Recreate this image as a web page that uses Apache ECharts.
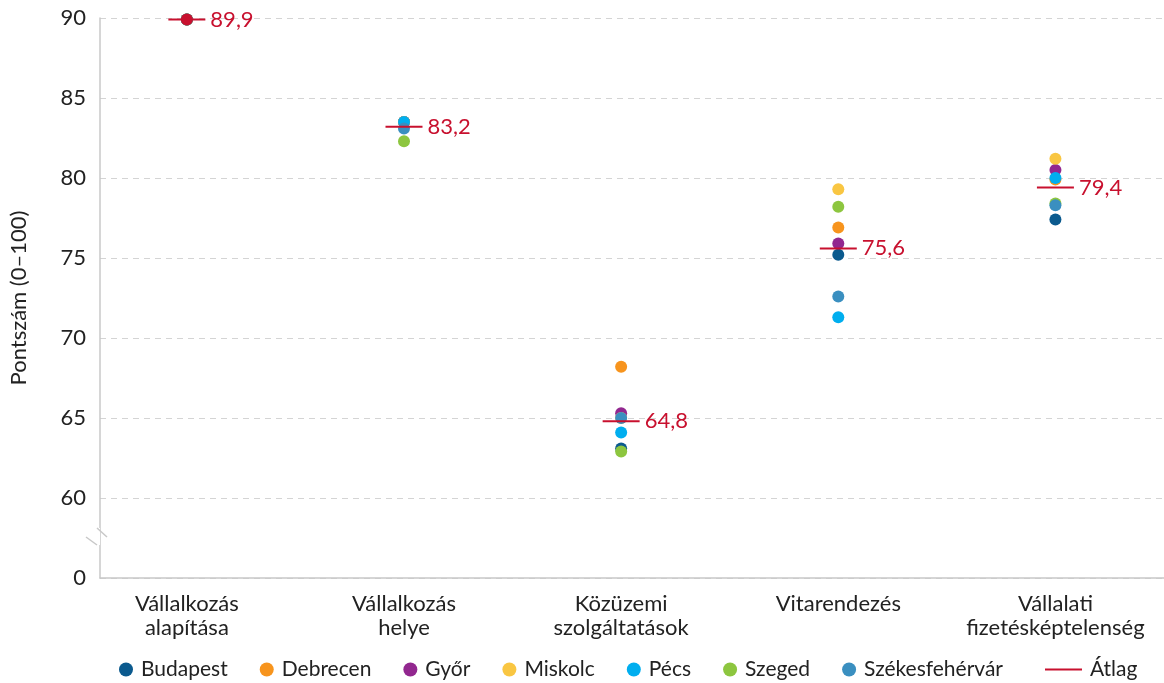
<!DOCTYPE html>
<html>
<head>
<meta charset="utf-8">
<script src="https://cdn.jsdelivr.net/npm/echarts@6/dist/echarts.min.js"></script>
<style>
  html, body { margin: 0; padding: 0; background: #fff; }
  #chart { width: 1164px; height: 683px; }
</style>
</head>
<body>
<div id="chart"></div>
<script>
(function(){
    'use strict';

    var categories = ['Vállalkozás\nalapítása', 'Vállalkozás\nhelye', 'Közüzemi\nszolgáltatások', 'Vitarendezés', 'Vállalati\nfizetésképtelenség'];
    var cities = ['Budapest', 'Debrecen', 'Győr', 'Miskolc', 'Pécs', 'Szeged', 'Székesfehérvár'];
    var cityColors = ['#0b5a8e', '#f7941d', '#92278f', '#f9c642', '#00aeef', '#8dc63f', '#3a8fc0'];

    // pontszámok városonként, kategóriák sorrendjében
    var budapest       = [89.9, 83.5, 63.1, 75.2, 77.4];
    var debrecen       = [89.9, 83.5, 68.2, 76.9, 79.9];
    var gyor           = [89.9, 83.5, 65.3, 75.9, 80.5];
    var miskolc        = [89.9, 83.5, 65.0, 79.3, 81.2];
    var pecs           = [89.9, 83.5, 64.1, 71.3, 80.0];
    var szeged         = [89.9, 82.3, 62.9, 78.2, 78.4];
    var szekesfehervar = [89.9, 83.1, 65.0, 72.6, 78.3];
    var atlag          = [89.9, 83.2, 64.8, 75.6, 79.4];

    var yTicks = [60, 65, 70, 75, 80, 85, 90];
    var AXIS_BOTTOM = 55; // ide kerül a "0" címke (tengelytörés)

    var cityValues = [budapest, debrecen, gyor, miskolc, pecs, szeged, szekesfehervar];
    var red = '#c8102e';
    var font = 'Lato';

    function toPairs(arr){
        var out = [];
        for (var i = 0; i < arr.length; i++) out.push([i, arr[i]]);
        return out;
    }

    var series = [];
    for (var c = 0; c < cities.length; c++){
        series.push({
            name: cities[c],
            type: 'scatter',
            symbol: 'circle',
            symbolSize: 12,
            itemStyle: { color: cityColors[c], opacity: 1 },
            data: toPairs(cityValues[c])
        });
    }
    // első kategóriánál minden város ugyanaz -> piros pont
    series.push({
        name: 'Átlag pont',
        type: 'scatter',
        symbol: 'circle',
        symbolSize: 12,
        z: 5,
        itemStyle: { color: red, opacity: 1 },
        data: [[0, atlag[0]]]
    });
    series.push({
        name: 'Átlag',
        type: 'scatter',
        symbol: 'rect',
        symbolSize: [37, 2],
        z: 6,
        itemStyle: { color: red, opacity: 1 },
        label: {
            show: true,
            position: 'right',
            distance: 5,
            color: red,
            fontFamily: font,
            fontSize: 22,
            formatter: function(p){ return p.value[1].toFixed(1).replace('.', ','); }
        },
        data: toPairs(atlag)
    });

    var option = {
        animation: false,
        grid: { left: 97, right: 0, top: 18, bottom: 105 },
        xAxis: {
            type: 'value',
            min: -0.4,
            max: 4.5,
            axisLine: { show: true, onZero: false, lineStyle: { color: '#c8c8c8', width: 1.5 } },
            axisTick: { show: false },
            splitLine: { show: false },
            axisLabel: {
                customValues: [0, 1, 2, 3, 4],
                formatter: function(v){ return categories[Math.round(v)]; },
                color: '#222',
                fontFamily: font,
                fontSize: 22,
                lineHeight: 24,
                margin: 14,
                align: 'center',
                verticalAlign: 'top'
            }
        },
        yAxis: {
            type: 'value',
            min: AXIS_BOTTOM,
            max: 90,
            interval: 5,
            name: 'Pontszám (0–100)',
            nameLocation: 'middle',
            nameGap: 70,
            nameTextStyle: { color: '#222', fontFamily: font, fontSize: 22 },
            axisLine: { show: true, onZero: false, lineStyle: { color: '#c8c8c8', width: 1.5 } },
            axisTick: { show: false },
            axisLabel: {
                color: '#222',
                fontFamily: font,
                fontSize: 22,
                margin: 14,
                formatter: function(v){
                    if (v === AXIS_BOTTOM) return '0';
                    return yTicks.indexOf(v) >= 0 ? String(v) : '';
                }
            },
            splitLine: {
                show: true,
                lineStyle: { color: '#d4d4d4', type: [6, 5], width: 1 }
            }
        },
        legend: [{
            data: cities,
            left: 114,
            top: 654,
            icon: 'circle',
            itemWidth: 14,
            itemHeight: 14,
            itemGap: 32,
            textStyle: { color: '#222', fontFamily: font, fontSize: 21, padding: [0, 0, 0, 3] }
        }, {
            data: ['Átlag'],
            left: 1040,
            top: 654,
            itemWidth: 37,
            itemHeight: 2,
            textStyle: { color: '#222', fontFamily: font, fontSize: 21, padding: [0, 0, 0, 3] }
        }],
        // tengelytörés jelzése
        graphic: [
            { type: 'rect', shape: { x: 94, y: 528, width: 6, height: 17 }, style: { fill: '#fff' }, z: 100 },
            { type: 'line', shape: { x1: 97, y1: 528, x2: 107, y2: 537 }, style: { stroke: '#c8c8c8', lineWidth: 1.5 }, z: 101 },
            { type: 'line', shape: { x1: 86, y1: 537, x2: 97, y2: 545 }, style: { stroke: '#c8c8c8', lineWidth: 1.5 }, z: 101 }
        ],
        series: series
    };

    var chart = echarts.init(document.getElementById('chart'));
    chart.setOption(option);
})();
</script>
</body>
</html>
